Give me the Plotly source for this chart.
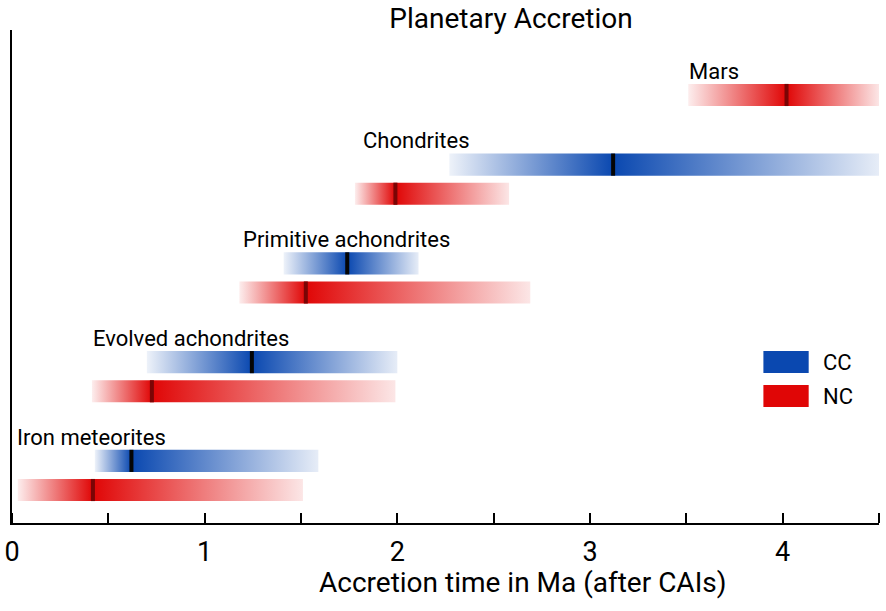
import plotly.graph_objects as go

# ---- data (Ma after CAIs) ----
groups = ["Iron meteorites", "Evolved achondrites", "Primitive achondrites", "Chondrites", "Mars"]
label_x = [0.015, 0.41, 1.19, 1.81, 3.505]
cc_start = [0.43, 0.70, 1.41, 2.27, None]
cc_peak = [0.62, 1.245, 1.74, 3.12, None]
cc_end = [1.59, 2.00, 2.11, 4.50, None]
nc_start = [0.03, 0.415, 1.18, 1.78, 3.51]
nc_peak = [0.42, 0.726, 1.525, 1.99, 4.02]
nc_end = [1.51, 1.99, 2.69, 2.58, 4.50]

CC_RGB = (10, 72, 176)
NC_RGB = (224, 6, 6)
CC_MARK = "#050505"
NC_MARK = "#7a0505"
FONT = "Roboto"

H = 0.112      # half bar height (y units)
CC_OFF = 0.295  # CC row offset above NC row
A0 = 0.07


def rgba(rgb, a):
    return f"rgba({rgb[0]},{rgb[1]},{rgb[2]},{a})"


fig = go.Figure()


def add_band(s, p, e, yc, rgb, mark):
    pos = (p - s) / (e - s)
    cs = [[0, rgba(rgb, A0)], [pos, rgba(rgb, 1)], [1, rgba(rgb, A0 + 0.03)]]
    fig.add_trace(go.Scatter(
        x=[s, e, e, s, s], y=[yc - H, yc - H, yc + H, yc + H, yc - H],
        mode="lines", fill="toself", line=dict(width=0),
        fillgradient=dict(type="horizontal", colorscale=cs),
        hoverinfo="skip", showlegend=False))
    fig.add_trace(go.Scatter(
        x=[p, p], y=[yc - H, yc + H], mode="lines",
        line=dict(color=mark, width=4), hoverinfo="skip", showlegend=False))


for g, name in enumerate(groups):
    top = g
    if nc_start[g] is not None:
        add_band(nc_start[g], nc_peak[g], nc_end[g], g, NC_RGB, NC_MARK)
    if cc_start[g] is not None:
        add_band(cc_start[g], cc_peak[g], cc_end[g], g + CC_OFF, CC_RGB, CC_MARK)
        top = g + CC_OFF
    fig.add_annotation(x=label_x[g], y=top + 0.24, text=name, showarrow=False,
                       xanchor="left", yanchor="middle",
                       font=dict(family=FONT, size=22, color="black"))

# ---- custom legend ----
legend_items = [("CC", CC_RGB, 1.296), ("NC", NC_RGB, 0.952)]
for lab, rgb, yl in legend_items:
    fig.add_shape(type="rect", xref="x", yref="y", x0=3.90, x1=4.135,
                  y0=yl - H, y1=yl + H, fillcolor=rgba(rgb, 1),
                  line=dict(width=0))
    fig.add_annotation(x=4.2, y=yl, text=lab, showarrow=False, xanchor="left",
                       yanchor="middle", font=dict(family=FONT, size=22, color="black"))

tickvals = [i * 0.5 for i in range(10)]
ticktext = [str(int(v)) if v == int(v) else "" for v in tickvals]

# dummy traces on the helper axes so they are drawn
fig.add_trace(go.Scatter(x=[0, 4.5], y=[0, 0], xaxis="x2", mode="markers",
                         marker=dict(opacity=0), hoverinfo="skip", showlegend=False))
fig.add_trace(go.Scatter(x=[0, 4.5], y=[0, 0], xaxis="x3", mode="markers",
                         marker=dict(opacity=0), hoverinfo="skip", showlegend=False))

fig.update_layout(
    width=886, height=611,
    margin=dict(l=12, r=7, t=30, b=88),
    paper_bgcolor="white", plot_bgcolor="white",
    font=dict(family=FONT, color="black"),
    title=dict(text="Planetary Accretion", x=511 / 886, xref="container", xanchor="center",
               y=1 - 18 / 611, yref="container", yanchor="middle",
               font=dict(family=FONT, size=28, color="black")),
    showlegend=False,
    xaxis=dict(range=[0, 4.5], showgrid=False, zeroline=False, showline=True,
               linecolor="black", linewidth=2, ticks="", showticklabels=False),
    # tick labels
    xaxis2=dict(range=[0, 4.5], overlaying="x", side="bottom", anchor="y",
                showgrid=False, zeroline=False, showline=False, automargin=False,
                ticks="outside", ticklen=5, tickcolor="rgba(0,0,0,0)",
                tickvals=tickvals, ticktext=ticktext,
                tickfont=dict(family=FONT, size=27, color="black")),
    # upward tick marks sitting on the bottom axis line
    xaxis3=dict(range=[0, 4.5], overlaying="x", side="top", anchor="free", position=0,
                showgrid=False, zeroline=False, showline=False, automargin=False,
                ticks="outside", ticklen=10, tickwidth=2, tickcolor="black",
                tickvals=tickvals, showticklabels=False),
    yaxis=dict(range=[-0.334, 4.658], showgrid=False, zeroline=False, showline=True,
               linecolor="black", linewidth=2, ticks="", showticklabels=False),
)

fig.add_annotation(x=(522 - 12) / 867, y=(523 - 582) / 493, xref="paper", yref="paper",
                   text="Accretion time in Ma (after CAIs)", showarrow=False,
                   xanchor="center", yanchor="middle",
                   font=dict(family=FONT, size=28, color="black"))

fig.write_html("out.html")
